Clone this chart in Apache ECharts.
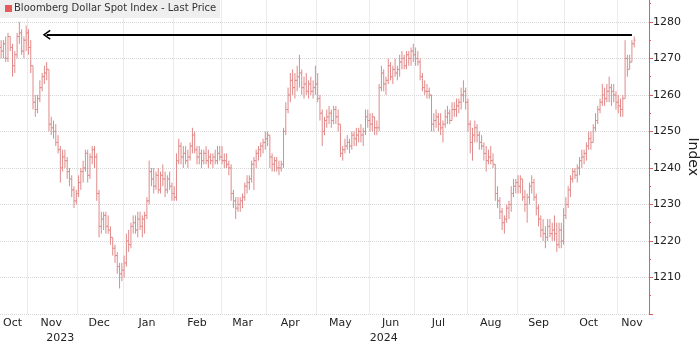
<!DOCTYPE html>
<html>
<head>
<meta charset="utf-8">
<script src="https://cdn.jsdelivr.net/npm/echarts@6/dist/echarts.min.js"></script>
<style>html,body{margin:0;padding:0;background:#fff}#c{width:700px;height:346px}</style>
</head>
<body>
<div id="c"></div>
<script>
// ---- data ----
const startDate = '2023-10-16';
const holidays = ['2023-12-25', '2024-01-01', '2024-03-29'];
const axisDays = 285;
const monthNames = ['Jan','Feb','Mar','Apr','May','Jun','Jul','Aug','Sep','Oct','Nov','Dec'];
const monthLabelIdx = [5, 22, 43, 64, 86, 106, 127, 149, 171, 192, 215, 236, 258, 277];
const yearLabelIdx = [26, 168];
const seriesName = 'Bloomberg Dollar Spot Index - Last Price';
const arrowLevel = 1276.5, arrowFrom = 277, arrowTo = 20;

const open = [
 1273,1272,1274,1270,1276,1273,1268,1271,1276,1277,1272,1275,
 1277,1273,1268,1258,1256,1259,1262,1265,1266,1267,1252,1251,1250,1247,1245,1240,1243,1242,1239,1237,1234,1231,
 1233,1236,1239,1240,1244,1238,1243,1245,1243,1233,1224,1226,1227,1224,1223,1221,1218,1216,1213,1211,
 1212,1214,1220,1219,1224,1225,1223,1226,1224,1226,1227,1231,1239,1237,1235,1238,1234,1238,1237,1234,1237,1235,
 1233,1232,1242,1246,1243,1244,1242,1243,1246,1249,1245,1243,1244,1242,1244,1242,1243,1242,1243,1242,1244,
 1243,1242,1242,1241,1240,1233,1231,1229,1230,1231,1232,1235,1236,1237,1241,1242,1244,1245,1246,1247,
 1248,1249,1243,1241,1242,1240,1240,1241,1250,1256,1260,1264,1262,1264,1265,1266,1262,1263,1261,1263,1261,1262,
 1263,1259,1255,1250,1253,1254,1255,1253,1256,1254,1252,1244,1245,1246,1247,1246,1249,1248,1249,1250,1249,1250,1254,
 1253,1252,1254,1251,1251,1262,1266,1263,1264,1268,1265,1267,1266,1267,1269,1270,1268,1271,1270,1272,
 1271,1270,1269,1265,1262,1261,1261,1260,1252,1253,1254,1252,1251,1252,1254,1255,1253,1256,1256,1257,1258,1260,1261,
 1258,1252,1247,1249,1251,1249,1247,1246,1244,1242,1243,1242,1241,1233,1231,1228,1225,1226,1229,1230,1233,1235,
 1236,1235,1237,1232,1230,1232,1235,1236,1232,1229,1226,1223,1222,1221,1224,1222,1223,1222,1219,1223,1220,
 1227,1230,1234,1237,1239,1238,1240,1242,1243,1244,1246,1248,1247,1251,1253,1256,1258,1260,1259,1261,1262,1261,1260,
 1258,1257,1256,1259,1270,1267,1269,1274
];
const high = [
 1275,1275,1276,1277,1276,1274,1272,1277,1280,1278,1276,1279,
 1278,1275,1268,1260,1260,1264,1266,1268,1269,1267,1254,1253,1252,1249,1246,1245,1245,1243,1240,1238,1235,1234,
 1238,1240,1242,1245,1245,1244,1246,1246,1244,1234,1228,1228,1228,1227,1224,1221,1219,1217,1214,1214,
 1216,1222,1223,1225,1227,1227,1228,1228,1227,1228,1232,1242,1240,1240,1239,1240,1239,1241,1239,1238,1239,1236,
 1235,1244,1248,1247,1246,1246,1245,1247,1251,1250,1246,1246,1245,1245,1246,1245,1244,1244,1245,1246,1246,
 1246,1244,1244,1242,1241,1234,1232,1232,1232,1233,1236,1238,1238,1242,1243,1245,1246,1247,1248,1250,
 1250,1249,1244,1243,1243,1242,1242,1251,1258,1262,1266,1267,1266,1268,1271,1267,1265,1266,1264,1265,1264,1268,
 1266,1260,1256,1254,1256,1257,1256,1257,1257,1256,1252,1246,1248,1249,1248,1250,1250,1251,1251,1252,1251,1256,1256,
 1255,1255,1254,1253,1263,1268,1267,1265,1270,1269,1268,1270,1268,1271,1272,1271,1272,1272,1273,1274,
 1273,1272,1270,1266,1264,1263,1262,1260,1255,1256,1255,1255,1253,1256,1257,1256,1258,1258,1259,1259,1262,1264,1262,
 1259,1253,1251,1253,1252,1250,1249,1247,1246,1245,1246,1244,1241,1235,1232,1229,1227,1230,1231,1235,1237,1237,
 1238,1238,1237,1234,1233,1236,1238,1237,1233,1230,1227,1226,1224,1226,1226,1225,1227,1225,1225,1225,1229,
 1232,1235,1238,1240,1240,1241,1243,1245,1245,1247,1250,1250,1252,1255,1257,1259,1263,1262,1263,1265,1263,1263,1261,
 1260,1259,1260,1275,1271,1271,1275,1276
];
const low = [
 1270,1270,1269,1269,1272,1265,1266,1270,1274,1271,1270,1272,
 1271,1266,1256,1254,1255,1258,1261,1263,1264,1250,1249,1248,1246,1244,1236,1239,1240,1237,1235,1232,1229,1230,
 1232,1234,1236,1239,1236,1237,1241,1240,1231,1221,1222,1223,1222,1222,1219,1216,1214,1211,1207,1209,
 1210,1213,1217,1218,1222,1222,1221,1223,1221,1222,1226,1230,1235,1233,1234,1233,1233,1235,1232,1233,1234,1231,
 1231,1231,1241,1241,1240,1241,1240,1242,1244,1244,1241,1241,1240,1241,1241,1240,1241,1240,1241,1241,1242,
 1241,1240,1240,1238,1231,1229,1226,1228,1228,1229,1231,1233,1234,1236,1234,1240,1242,1243,1244,1245,
 1246,1240,1239,1239,1239,1238,1239,1240,1249,1255,1258,1260,1259,1261,1262,1260,1259,1260,1259,1260,1259,1260,
 1258,1253,1246,1249,1251,1252,1251,1252,1252,1250,1243,1242,1244,1245,1244,1245,1246,1246,1247,1247,1246,1249,1251,
 1250,1250,1249,1249,1250,1261,1261,1260,1263,1264,1263,1265,1264,1265,1267,1267,1267,1268,1268,1269,
 1268,1268,1264,1261,1260,1259,1259,1250,1250,1251,1250,1249,1247,1251,1252,1252,1253,1254,1254,1255,1256,1258,1256,
 1250,1244,1242,1247,1247,1245,1245,1242,1239,1241,1241,1240,1231,1229,1226,1223,1222,1225,1226,1228,1232,1233,
 1233,1233,1231,1228,1225,1230,1233,1231,1227,1224,1221,1220,1218,1220,1221,1220,1220,1217,1218,1218,1219,
 1226,1229,1232,1236,1237,1236,1238,1240,1241,1242,1245,1245,1247,1250,1252,1255,1257,1257,1258,1258,1257,1258,1256,
 1255,1254,1254,1259,1265,1267,1269,1273
];
const close = [
 1272,1274,1270,1276,1273,1268,1271,1276,1277,1272,1275,1277,
 1273,1268,1258,1256,1259,1262,1265,1266,1267,1252,1251,1250,1247,1245,1240,1243,1242,1239,1237,1234,1231,1233,
 1236,1239,1240,1244,1238,1243,1245,1243,1233,1224,1226,1227,1224,1223,1221,1218,1216,1213,1211,1212,
 1214,1220,1219,1224,1225,1223,1226,1224,1226,1227,1231,1239,1237,1235,1238,1234,1238,1237,1234,1237,1235,1233,
 1232,1242,1246,1243,1244,1242,1243,1246,1249,1245,1243,1244,1242,1244,1242,1243,1242,1243,1242,1244,1243,
 1242,1242,1241,1240,1233,1231,1229,1230,1231,1232,1235,1236,1237,1241,1242,1244,1245,1246,1247,1248,
 1249,1243,1241,1242,1240,1240,1241,1250,1256,1260,1264,1262,1264,1265,1266,1262,1263,1261,1263,1261,1262,1263,
 1259,1255,1250,1253,1254,1255,1253,1256,1254,1252,1244,1245,1246,1247,1246,1249,1248,1249,1250,1249,1250,1254,1253,
 1252,1254,1251,1251,1262,1266,1263,1264,1268,1265,1267,1266,1267,1269,1270,1268,1271,1270,1272,1271,
 1270,1269,1265,1262,1261,1261,1260,1252,1253,1254,1252,1251,1252,1254,1255,1253,1256,1256,1257,1258,1260,1261,1258,
 1252,1247,1249,1251,1249,1247,1246,1244,1242,1243,1242,1241,1233,1231,1228,1225,1226,1229,1230,1233,1235,1236,
 1235,1237,1232,1230,1232,1235,1236,1232,1229,1226,1223,1222,1221,1224,1222,1223,1222,1219,1223,1220,1227,
 1230,1234,1237,1239,1238,1240,1242,1243,1244,1246,1248,1247,1251,1253,1256,1258,1260,1259,1261,1262,1261,1260,1258,
 1257,1256,1259,1270,1267,1269,1274,1275
];

// ---- build ----
function buildDays() {
  const out = [];
  let t = Date.parse(startDate + 'T00:00:00Z');
  while (out.length < axisDays) {
    const d = new Date(t);
    const s = d.toISOString().slice(0, 10);
    const dow = d.getUTCDay();
    if (dow !== 0 && dow !== 6 && holidays.indexOf(s) < 0) out.push(s);
    t += 86400000;
  }
  return out;
}
const days = buildDays();
const monthStart = new Set();
days.forEach((s, i) => { if (i > 0 && s.slice(5, 7) !== days[i - 1].slice(5, 7)) monthStart.add(i); });
const monthLabelSet = new Set(monthLabelIdx);
const yearLabelSet = new Set(yearLabelIdx);
const ohlc = close.map((c, i) => [i, open[i], high[i], low[i], c]);

const FONT = 'DejaVu Sans';
const barColor = '#e08a8a';
const axisRed = '#de5e5e';
const gridColor = '#d6d6d6';
const chevron = 'path://M5,0 L10,8.2 L8.7,9.2 L5,2.9 L1.3,9.2 L0,8.2 Z';

const chart = echarts.init(document.getElementById('c'), null, {renderer: 'canvas'});
chart.setOption({
  animation: false,
  backgroundColor: '#ffffff',
  grid: {left: 0, right: 51, top: -14.6, bottom: 32, containLabel: false, outerBoundsMode: 'none'},
  xAxis: [{
    type: 'category', data: days, boundaryGap: true,
    axisLine: {show: false}, axisTick: {show: false},
    axisLabel: {
      interval: (i) => monthLabelSet.has(i),
      formatter: (v) => monthNames[parseInt(v.slice(5, 7), 10) - 1],
      margin: 4, color: '#222', fontSize: 11, fontFamily: FONT
    },
    splitLine: {show: true, interval: (i) => monthStart.has(i),
      lineStyle: {color: gridColor, type: 'dotted', width: 1}}
  }, {
    type: 'category', data: days, boundaryGap: true, position: 'bottom', offset: 15,
    axisLine: {show: false}, axisTick: {show: false}, splitLine: {show: false},
    axisLabel: {
      interval: (i) => yearLabelSet.has(i),
      formatter: (v) => v.slice(0, 4),
      margin: 4, color: '#222', fontSize: 11, fontFamily: FONT
    }
  }],
  yAxis: {
    type: 'value', position: 'right', min: 1200, max: 1290, interval: 10,
    axisLine: {show: true, lineStyle: {color: axisRed, width: 1}},
    axisTick: {show: true, length: 4, lineStyle: {color: axisRed}},
    minorTick: {show: true, splitNumber: 2, length: 2, lineStyle: {color: axisRed}},
    minorSplitLine: {show: false},
    axisLabel: {showMinLabel: false, showMaxLabel: false, margin: 4, color: '#222', fontSize: 11, fontFamily: FONT,
      formatter: (v) => String(v)},
    splitLine: {show: true, lineStyle: {color: gridColor, type: 'dotted', width: 1}},
    name: 'Index', nameLocation: 'middle', nameRotate: -90, nameGap: 37, nameMoveOverlap: false,
    nameTextStyle: {fontSize: 14, color: '#222', fontFamily: FONT, padding: [0, 0, 0, 14]}
  },
  graphic: [
    {type: 'rect', left: 0, top: 0, shape: {width: 220, height: 18}, style: {fill: '#efefef'}, z: 100},
    {type: 'rect', left: 5, top: 5, shape: {width: 7, height: 7}, style: {fill: '#e25c5c'}, z: 101},
    {type: 'text', left: 14, top: 3, style: {text: seriesName, font: '10px "DejaVu Sans"', fill: '#333'}, z: 101}
  ],
  series: [{
    type: 'custom', name: seriesName,
    xAxisIndex: 0, yAxisIndex: 0,
    itemStyle: {color: barColor},
    encode: {x: 0, y: [1, 2, 3, 4]},
    data: ohlc,
    renderItem: function (params, api) {
      const i = api.value(0);
      const pO = api.coord([i, api.value(1)]);
      const pH = api.coord([i, api.value(2)]);
      const pL = api.coord([i, api.value(3)]);
      const pC = api.coord([i, api.value(4)]);
      const x = pH[0];
      return {type: 'group', children: [
        {type: 'line', shape: {x1: x, y1: pH[1], x2: x, y2: pL[1]}, style: {stroke: barColor, lineWidth: 1}},
        {type: 'line', shape: {x1: x - 1.4, y1: pO[1], x2: x, y2: pO[1]}, style: {stroke: barColor, lineWidth: 1}},
        {type: 'line', shape: {x1: x, y1: pC[1], x2: x + 1.4, y2: pC[1]}, style: {stroke: barColor, lineWidth: 1}}
      ]};
    }
  }, {
    type: 'line', name: 'arrow', data: [], xAxisIndex: 0, yAxisIndex: 0,
    markLine: {
      silent: true, animation: false,
      symbol: ['none', chevron], symbolSize: [10, 8],
      label: {show: false},
      lineStyle: {color: '#000', width: 2, type: 'solid'},
      data: [[{coord: [arrowFrom, arrowLevel]}, {coord: [arrowTo, arrowLevel]}]]
    }
  }]
});
</script>
</body>
</html>
